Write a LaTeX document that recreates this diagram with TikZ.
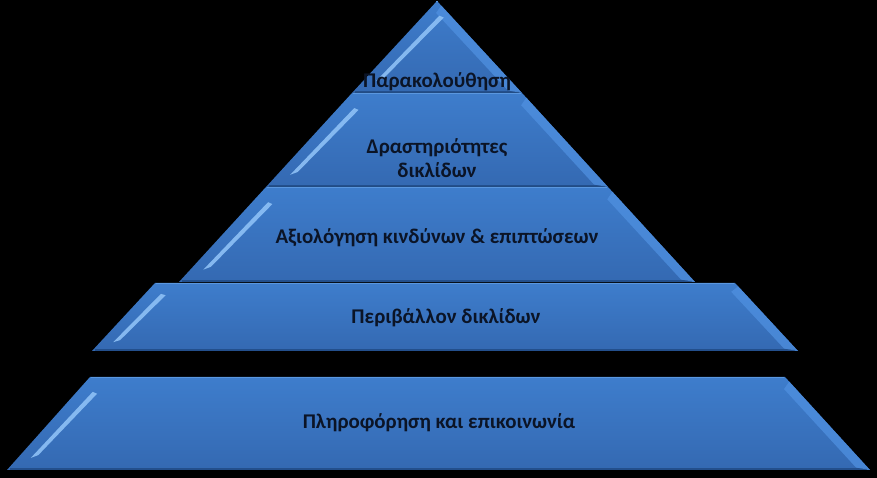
\documentclass[tikz,border=0pt]{standalone}
\usepackage{fontspec}
\setmainfont{Carlito}
\usetikzlibrary{calc}
\definecolor{lyrtop}{HTML}{3E7DCC}
\definecolor{lyrmid}{HTML}{4C8DDE}
\definecolor{lyrbot}{HTML}{3469B2}
\definecolor{lyrdark}{HTML}{234F8C}
\definecolor{lyrtopline}{HTML}{5A97DF}
\definecolor{bevelr}{HTML}{4F90E0}
\definecolor{hilite}{HTML}{8EC1F6}
\definecolor{txt}{HTML}{0B1426}
\tikzset{
  layer/.style={top color=lyrtop, middle color=lyrmid, bottom color=lyrbot, draw=none},
  rbevel/.style={fill=bevelr, opacity=0.75},
  lhigh/.style={fill=hilite, opacity=0.9},
  edgeline/.style={draw=lyrdark, line width=2.4bp},
  topline/.style={draw=lyrtopline, line width=1bp},
  lbl/.style={text=txt, font=\bfseries\fontsize{21}{24}\selectfont, align=center, inner sep=0pt},
}
% #1 x top-left, #2 x top-right, #3 y top, #4 x bottom-left, #5 x bottom-right, #6 y bottom
\newcommand\pyrlayer[6]{%
  \fill[layer] (#1,#3) -- (#2,#3) -- (#5,#6) -- (#4,#6) -- cycle;
  \draw[edgeline] ($(#4,#6)+(3,1.2)$) -- ($(#5,#6)+(-3,1.2)$);
  \draw[topline] ($(#1,#3)+(1,-0.6)$) -- ($(#2,#3)+(-1,-0.6)$);
  \fill[rbevel] ($(#2,#3)!0.05!(#5,#6)$) -- (#5,#6) -- ($(#5,#6)+(-14,2.5)$) -- ($(#2,#3)!0.13!(#5,#6)+(-12,0)$) -- cycle;
  \fill[lhigh] ($(#4,#6)!0.13!(#1,#3)+(13,0)$) -- ($(#4,#6)!0.84!(#1,#3)+(16,0)$)
     -- ($(#4,#6)!0.82!(#1,#3)+(22,0)$) -- ($(#4,#6)!0.16!(#1,#3)+(18,0)$) -- cycle;
}
\begin{document}
\begin{tikzpicture}[x=1bp,y=1bp]
\fill[black] (0,0) rectangle (877,478);
\useasboundingbox (0,0) rectangle (877,478);
\pyrlayer{437}{437}{477}{352}{522}{385}
\pyrlayer{352}{522}{385}{266}{608}{291}
\pyrlayer{266}{608}{291}{179}{695}{196}
\pyrlayer{155}{735}{195}{92}{798}{127}
\pyrlayer{90}{785}{101}{7}{870}{8}
\node[lbl] (t1) at (437,396) {Παρακολούθηση};
\node[lbl] (t2) at (437,320) {Δραστηριότητες\\δικλίδων};
\node[lbl] (t3) at (437,240) {Αξιολόγηση κινδύνων \& επιπτώσεων};
\node[lbl] (t4) at (446,160) {Περιβάλλον δικλίδων};
\node[lbl] (t5) at (439,55) {Πληροφόρηση και επικοινωνία};
\end{tikzpicture}
\end{document}
